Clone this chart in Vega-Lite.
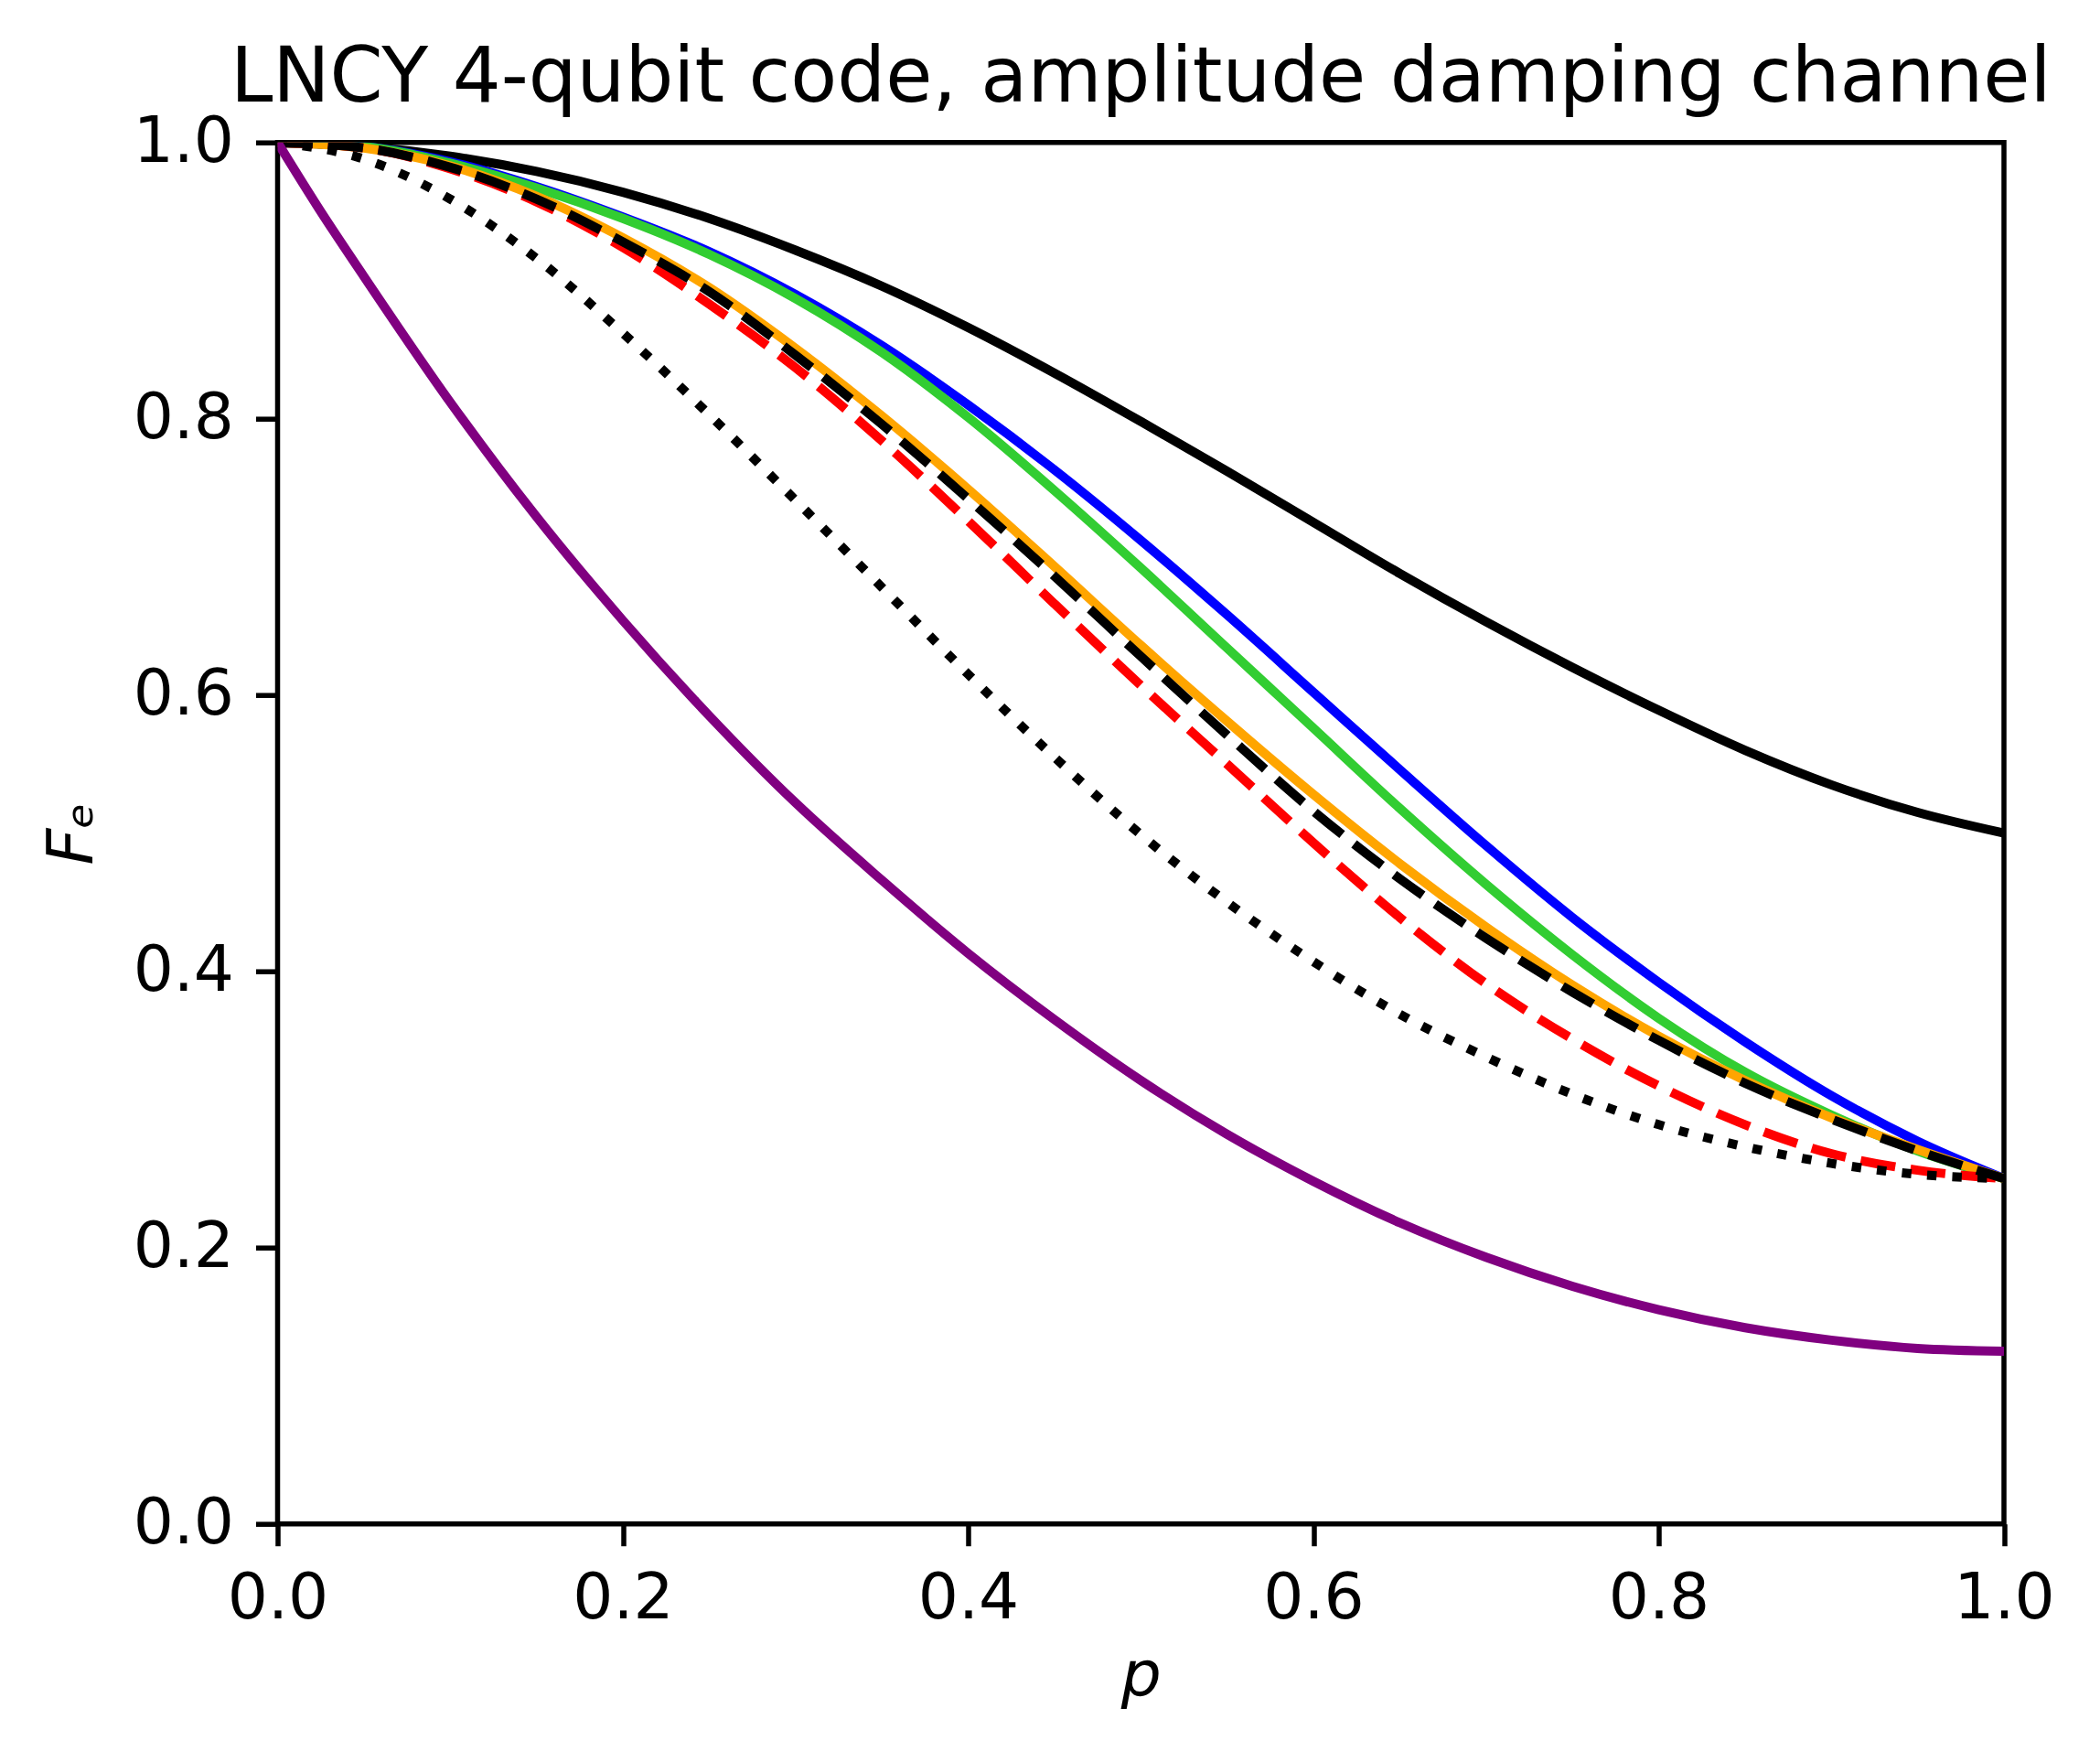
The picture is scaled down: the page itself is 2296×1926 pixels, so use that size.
{
  "$schema": "https://vega.github.io/schema/vega-lite/v6.json",
  "description": "LNCY 4-qubit code, entanglement fidelity under the amplitude damping channel",
  "autosize": {"type": "none"},
  "padding": {"left": 303.5, "top": 155.7, "right": 105, "bottom": 260.3},
  "width": 1887.5,
  "height": 1510,
  "background": "white",
  "title": {
    "text": "LNCY 4-qubit code, amplitude damping channel",
    "font": "DejaVu Sans",
    "fontSize": 83.3,
    "fontWeight": "normal",
    "color": "black",
    "anchor": "middle",
    "offset": 40,
    "dy": 48
  },
  "config": {
    "view": {"stroke": "black", "strokeWidth": 5.5},
    "axis": {
      "grid": false,
      "domain": false,
      "labelFont": "DejaVu Sans",
      "labelFontSize": 69.4,
      "labelColor": "black",
      "labelFlush": false,
      "labelOverlap": false,
      "labelPadding": 24,
      "tickSize": 24,
      "tickWidth": 5.5,
      "tickColor": "black",
      "titleFont": "DejaVu Sans",
      "titleFontSize": 69.4,
      "titleFontWeight": "normal",
      "titleFontStyle": "italic",
      "titleColor": "black"
    }
  },
  "data": {
    "values": [
      {"series": "black_solid", "p": 0.0, "F": 1.0},
      {"series": "black_solid", "p": 0.05, "F": 0.997},
      {"series": "black_solid", "p": 0.1, "F": 0.99},
      {"series": "black_solid", "p": 0.15, "F": 0.979},
      {"series": "black_solid", "p": 0.2, "F": 0.964},
      {"series": "black_solid", "p": 0.25, "F": 0.945},
      {"series": "black_solid", "p": 0.3, "F": 0.922},
      {"series": "black_solid", "p": 0.35, "F": 0.896},
      {"series": "black_solid", "p": 0.4, "F": 0.866},
      {"series": "black_solid", "p": 0.45, "F": 0.833},
      {"series": "black_solid", "p": 0.5, "F": 0.798},
      {"series": "black_solid", "p": 0.55, "F": 0.762},
      {"series": "black_solid", "p": 0.6, "F": 0.725},
      {"series": "black_solid", "p": 0.65, "F": 0.688},
      {"series": "black_solid", "p": 0.7, "F": 0.653},
      {"series": "black_solid", "p": 0.75, "F": 0.62},
      {"series": "black_solid", "p": 0.8, "F": 0.589},
      {"series": "black_solid", "p": 0.85, "F": 0.56},
      {"series": "black_solid", "p": 0.9, "F": 0.535},
      {"series": "black_solid", "p": 0.95, "F": 0.515},
      {"series": "black_solid", "p": 1.0, "F": 0.5},

      {"series": "blue", "p": 0.0, "F": 1.0},
      {"series": "blue", "p": 0.05, "F": 0.997},
      {"series": "blue", "p": 0.1, "F": 0.986},
      {"series": "blue", "p": 0.15, "F": 0.968},
      {"series": "blue", "p": 0.2, "F": 0.946},
      {"series": "blue", "p": 0.25, "F": 0.921},
      {"series": "blue", "p": 0.3, "F": 0.89},
      {"series": "blue", "p": 0.35, "F": 0.853},
      {"series": "blue", "p": 0.4, "F": 0.81},
      {"series": "blue", "p": 0.45, "F": 0.763},
      {"series": "blue", "p": 0.5, "F": 0.712},
      {"series": "blue", "p": 0.55, "F": 0.658},
      {"series": "blue", "p": 0.6, "F": 0.602},
      {"series": "blue", "p": 0.65, "F": 0.546},
      {"series": "blue", "p": 0.7, "F": 0.491},
      {"series": "blue", "p": 0.75, "F": 0.439},
      {"series": "blue", "p": 0.8, "F": 0.392},
      {"series": "blue", "p": 0.85, "F": 0.349},
      {"series": "blue", "p": 0.9, "F": 0.31},
      {"series": "blue", "p": 0.95, "F": 0.277},
      {"series": "blue", "p": 1.0, "F": 0.25},

      {"series": "green", "p": 0.0, "F": 1.0},
      {"series": "green", "p": 0.05, "F": 0.997},
      {"series": "green", "p": 0.1, "F": 0.985},
      {"series": "green", "p": 0.15, "F": 0.967},
      {"series": "green", "p": 0.2, "F": 0.945},
      {"series": "green", "p": 0.25, "F": 0.919},
      {"series": "green", "p": 0.3, "F": 0.887},
      {"series": "green", "p": 0.35, "F": 0.848},
      {"series": "green", "p": 0.4, "F": 0.801},
      {"series": "green", "p": 0.45, "F": 0.748},
      {"series": "green", "p": 0.5, "F": 0.692},
      {"series": "green", "p": 0.55, "F": 0.634},
      {"series": "green", "p": 0.6, "F": 0.576},
      {"series": "green", "p": 0.65, "F": 0.518},
      {"series": "green", "p": 0.7, "F": 0.463},
      {"series": "green", "p": 0.75, "F": 0.412},
      {"series": "green", "p": 0.8, "F": 0.366},
      {"series": "green", "p": 0.85, "F": 0.327},
      {"series": "green", "p": 0.9, "F": 0.296},
      {"series": "green", "p": 0.95, "F": 0.27},
      {"series": "green", "p": 1.0, "F": 0.25},

      {"series": "orange", "p": 0.0, "F": 1.0},
      {"series": "orange", "p": 0.05, "F": 0.996},
      {"series": "orange", "p": 0.1, "F": 0.983},
      {"series": "orange", "p": 0.15, "F": 0.961},
      {"series": "orange", "p": 0.2, "F": 0.931},
      {"series": "orange", "p": 0.25, "F": 0.895},
      {"series": "orange", "p": 0.3, "F": 0.851},
      {"series": "orange", "p": 0.35, "F": 0.802},
      {"series": "orange", "p": 0.4, "F": 0.749},
      {"series": "orange", "p": 0.45, "F": 0.693},
      {"series": "orange", "p": 0.5, "F": 0.636},
      {"series": "orange", "p": 0.55, "F": 0.581},
      {"series": "orange", "p": 0.6, "F": 0.528},
      {"series": "orange", "p": 0.65, "F": 0.478},
      {"series": "orange", "p": 0.7, "F": 0.432},
      {"series": "orange", "p": 0.75, "F": 0.39},
      {"series": "orange", "p": 0.8, "F": 0.353},
      {"series": "orange", "p": 0.85, "F": 0.321},
      {"series": "orange", "p": 0.9, "F": 0.294},
      {"series": "orange", "p": 0.95, "F": 0.271},
      {"series": "orange", "p": 1.0, "F": 0.25},

      {"series": "red_dashed", "p": 0.0, "F": 1.0},
      {"series": "red_dashed", "p": 0.05, "F": 0.996},
      {"series": "red_dashed", "p": 0.1, "F": 0.981},
      {"series": "red_dashed", "p": 0.15, "F": 0.957},
      {"series": "red_dashed", "p": 0.2, "F": 0.924},
      {"series": "red_dashed", "p": 0.25, "F": 0.883},
      {"series": "red_dashed", "p": 0.3, "F": 0.837},
      {"series": "red_dashed", "p": 0.35, "F": 0.784},
      {"series": "red_dashed", "p": 0.4, "F": 0.726},
      {"series": "red_dashed", "p": 0.45, "F": 0.666},
      {"series": "red_dashed", "p": 0.5, "F": 0.607},
      {"series": "red_dashed", "p": 0.55, "F": 0.55},
      {"series": "red_dashed", "p": 0.6, "F": 0.493},
      {"series": "red_dashed", "p": 0.65, "F": 0.439},
      {"series": "red_dashed", "p": 0.7, "F": 0.391},
      {"series": "red_dashed", "p": 0.75, "F": 0.351},
      {"series": "red_dashed", "p": 0.8, "F": 0.317},
      {"series": "red_dashed", "p": 0.85, "F": 0.289},
      {"series": "red_dashed", "p": 0.9, "F": 0.268},
      {"series": "red_dashed", "p": 0.95, "F": 0.256},
      {"series": "red_dashed", "p": 1.0, "F": 0.25},

      {"series": "black_dashed", "p": 0.0, "F": 1.0},
      {"series": "black_dashed", "p": 0.05, "F": 0.996},
      {"series": "black_dashed", "p": 0.1, "F": 0.982},
      {"series": "black_dashed", "p": 0.15, "F": 0.959},
      {"series": "black_dashed", "p": 0.2, "F": 0.928},
      {"series": "black_dashed", "p": 0.25, "F": 0.892},
      {"series": "black_dashed", "p": 0.3, "F": 0.846},
      {"series": "black_dashed", "p": 0.35, "F": 0.796},
      {"series": "black_dashed", "p": 0.4, "F": 0.742},
      {"series": "black_dashed", "p": 0.45, "F": 0.686},
      {"series": "black_dashed", "p": 0.5, "F": 0.628},
      {"series": "black_dashed", "p": 0.55, "F": 0.571},
      {"series": "black_dashed", "p": 0.6, "F": 0.516},
      {"series": "black_dashed", "p": 0.65, "F": 0.467},
      {"series": "black_dashed", "p": 0.7, "F": 0.424},
      {"series": "black_dashed", "p": 0.75, "F": 0.385},
      {"series": "black_dashed", "p": 0.8, "F": 0.35},
      {"series": "black_dashed", "p": 0.85, "F": 0.319},
      {"series": "black_dashed", "p": 0.9, "F": 0.293},
      {"series": "black_dashed", "p": 0.95, "F": 0.27},
      {"series": "black_dashed", "p": 1.0, "F": 0.25},

      {"series": "black_dotted", "p": 0.0, "F": 1.0},
      {"series": "black_dotted", "p": 0.05, "F": 0.988},
      {"series": "black_dotted", "p": 0.1, "F": 0.959},
      {"series": "black_dotted", "p": 0.15, "F": 0.916},
      {"series": "black_dotted", "p": 0.2, "F": 0.862},
      {"series": "black_dotted", "p": 0.25, "F": 0.803},
      {"series": "black_dotted", "p": 0.3, "F": 0.741},
      {"series": "black_dotted", "p": 0.35, "F": 0.678},
      {"series": "black_dotted", "p": 0.4, "F": 0.615},
      {"series": "black_dotted", "p": 0.45, "F": 0.555},
      {"series": "black_dotted", "p": 0.5, "F": 0.499},
      {"series": "black_dotted", "p": 0.55, "F": 0.45},
      {"series": "black_dotted", "p": 0.6, "F": 0.407},
      {"series": "black_dotted", "p": 0.65, "F": 0.369},
      {"series": "black_dotted", "p": 0.7, "F": 0.338},
      {"series": "black_dotted", "p": 0.75, "F": 0.311},
      {"series": "black_dotted", "p": 0.8, "F": 0.289},
      {"series": "black_dotted", "p": 0.85, "F": 0.273},
      {"series": "black_dotted", "p": 0.9, "F": 0.261},
      {"series": "black_dotted", "p": 0.95, "F": 0.253},
      {"series": "black_dotted", "p": 1.0, "F": 0.25},

      {"series": "purple", "p": 0.0, "F": 1.0},
      {"series": "purple", "p": 0.025, "F": 0.95},
      {"series": "purple", "p": 0.05, "F": 0.903},
      {"series": "purple", "p": 0.1, "F": 0.812},
      {"series": "purple", "p": 0.15, "F": 0.729},
      {"series": "purple", "p": 0.2, "F": 0.654},
      {"series": "purple", "p": 0.25, "F": 0.585},
      {"series": "purple", "p": 0.3, "F": 0.522},
      {"series": "purple", "p": 0.35, "F": 0.466},
      {"series": "purple", "p": 0.4, "F": 0.413},
      {"series": "purple", "p": 0.45, "F": 0.365},
      {"series": "purple", "p": 0.5, "F": 0.321},
      {"series": "purple", "p": 0.55, "F": 0.282},
      {"series": "purple", "p": 0.6, "F": 0.248},
      {"series": "purple", "p": 0.65, "F": 0.218},
      {"series": "purple", "p": 0.7, "F": 0.193},
      {"series": "purple", "p": 0.75, "F": 0.172},
      {"series": "purple", "p": 0.8, "F": 0.155},
      {"series": "purple", "p": 0.85, "F": 0.142},
      {"series": "purple", "p": 0.9, "F": 0.133},
      {"series": "purple", "p": 0.95, "F": 0.127},
      {"series": "purple", "p": 1.0, "F": 0.125}
    ]
  },
  "encoding": {
    "x": {
      "field": "p", "type": "quantitative",
      "scale": {"domain": [0, 1], "nice": false, "zero": false},
      "axis": {"title": "p", "values": [0, 0.2, 0.4, 0.6, 0.8, 1.0], "format": ".1f", "titlePadding": 16}
    },
    "y": {
      "field": "F", "type": "quantitative",
      "scale": {"domain": [0, 1], "nice": false},
      "axis": {"title": "Fₑ", "values": [0, 0.2, 0.4, 0.6, 0.8, 1.0], "format": ".1f", "titlePadding": 30}
    }
  },
  "layer": [
    {
      "transform": [{"filter": "datum.series === 'black_solid'"}],
      "mark": {"type": "line", "color": "black", "strokeWidth": 10, "interpolate": "monotone", "clip": true}
    },
    {
      "transform": [{"filter": "datum.series === 'blue'"}],
      "mark": {"type": "line", "color": "#0000ff", "strokeWidth": 10, "interpolate": "monotone", "clip": true}
    },
    {
      "transform": [{"filter": "datum.series === 'green'"}],
      "mark": {"type": "line", "color": "#32cd32", "strokeWidth": 10, "interpolate": "monotone", "clip": true}
    },
    {
      "transform": [{"filter": "datum.series === 'orange'"}],
      "mark": {"type": "line", "color": "#ffa500", "strokeWidth": 10, "interpolate": "monotone", "clip": true}
    },
    {
      "transform": [{"filter": "datum.series === 'red_dashed'"}],
      "mark": {"type": "line", "color": "#ff0000", "strokeWidth": 10, "strokeDash": [38.5, 16.7], "interpolate": "monotone", "clip": true}
    },
    {
      "transform": [{"filter": "datum.series === 'black_dashed'"}],
      "mark": {"type": "line", "color": "black", "strokeWidth": 10, "strokeDash": [38.5, 16.7], "interpolate": "monotone", "clip": true}
    },
    {
      "transform": [{"filter": "datum.series === 'black_dotted'"}],
      "mark": {"type": "line", "color": "black", "strokeWidth": 10, "strokeDash": [10.4, 17.2], "interpolate": "monotone", "clip": true}
    },
    {
      "transform": [{"filter": "datum.series === 'purple'"}],
      "mark": {"type": "line", "color": "#800080", "strokeWidth": 10, "interpolate": "monotone", "clip": true}
    }
  ]
}
